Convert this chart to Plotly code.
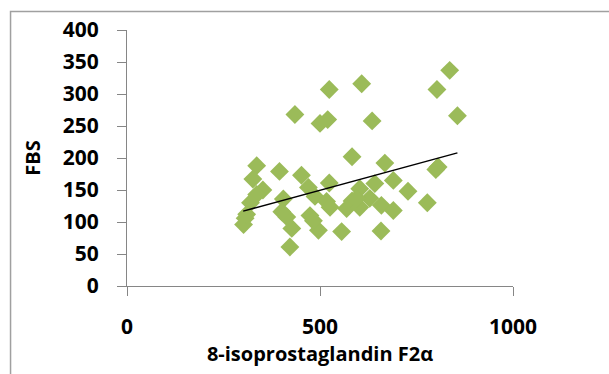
import plotly.graph_objects as go

# Data
isoprostaglandin = [524, 608, 435, 500, 520, 635, 836, 803, 856, 583,
                    668, 806, 800, 336, 395, 452, 326, 524, 690, 728,
                    778, 352, 336, 470, 405, 320, 487, 517, 526, 306,
                    302, 414, 401, 427, 422, 474, 496, 556, 658, 642,
                    603, 583, 629, 659, 690, 569, 603, 595, 310, 483]
fbs = [307, 316, 268, 254, 260, 258, 337, 307, 266, 202,
       192, 186, 182, 188, 179, 173, 167, 161, 165, 148,
       130, 150, 143, 154, 136, 130, 140, 132, 123, 106,
       96, 108, 116, 90, 61, 110, 87, 85, 86, 160,
       152, 133, 137, 126, 118, 121, 123, 137, 112, 102]
trend_x = [301, 856]
trend_y = [117, 208]
x_ticks = [0, 500, 1000]
y_ticks = [0, 50, 100, 150, 200, 250, 300, 350, 400]

W, H = 609, 374
L, R, T, B = 126.7, 609 - 513.5, 29.5, 374 - 285.7
pw, ph = W - L - R, H - T - B

fig = go.Figure()
fig.add_trace(go.Scatter(
    x=isoprostaglandin, y=fbs, mode="markers",
    marker=dict(symbol="diamond", size=14.5, color="#9BBB59", line=dict(width=0)),
    showlegend=False))
fig.add_trace(go.Scatter(
    x=trend_x, y=trend_y, mode="lines",
    line=dict(color="black", width=1.5), showlegend=False))

font_family = "Open Sans"
axis_color = "#868686"
tick_font = dict(size=21, family=font_family, color="black", weight="bold")
title_font = dict(size=20, family=font_family, color="black", weight="bold")
fig.update_layout(
    width=W, height=H,
    margin=dict(l=L, r=R, t=T, b=B, pad=0, autoexpand=False),
    paper_bgcolor="white", plot_bgcolor="white",
    font=dict(family=font_family, color="black"),
    xaxis=dict(range=[0, 1000], tickvals=x_ticks, ticks="outside", ticklen=9,
               tickcolor=axis_color, showline=True, linecolor=axis_color, linewidth=1,
               showgrid=False, zeroline=False, automargin=False,
               tickfont=tick_font, ticklabelstandoff=13,
               title=dict(text="8-isoprostaglandin F2α", standoff=0, font=title_font)),
    yaxis=dict(range=[0, 400], tickvals=y_ticks, ticks="outside", ticklen=9,
               tickcolor=axis_color, showline=True, linecolor=axis_color, linewidth=1,
               showgrid=False, zeroline=False, automargin=False,
               tickfont=tick_font, ticklabelstandoff=14,
               title=dict(text="FBS", standoff=16, font=title_font)),
)
# outer chart frame (left and top edges visible, rest cropped)
fig.add_shape(type="rect", xref="paper", yref="paper",
              x0=(10 - L) / pw, x1=(W + 50 - L) / pw,
              y0=-(H + 50 - (T + ph)) / ph, y1=(T + ph - 11) / ph,
              line=dict(color="#A0A0A0", width=1.5), layer="below")

fig.write_html("out.html", config={"displayModeBar": False},
               post_script="document.body.style.margin='0px';document.body.style.overflow='hidden';")
